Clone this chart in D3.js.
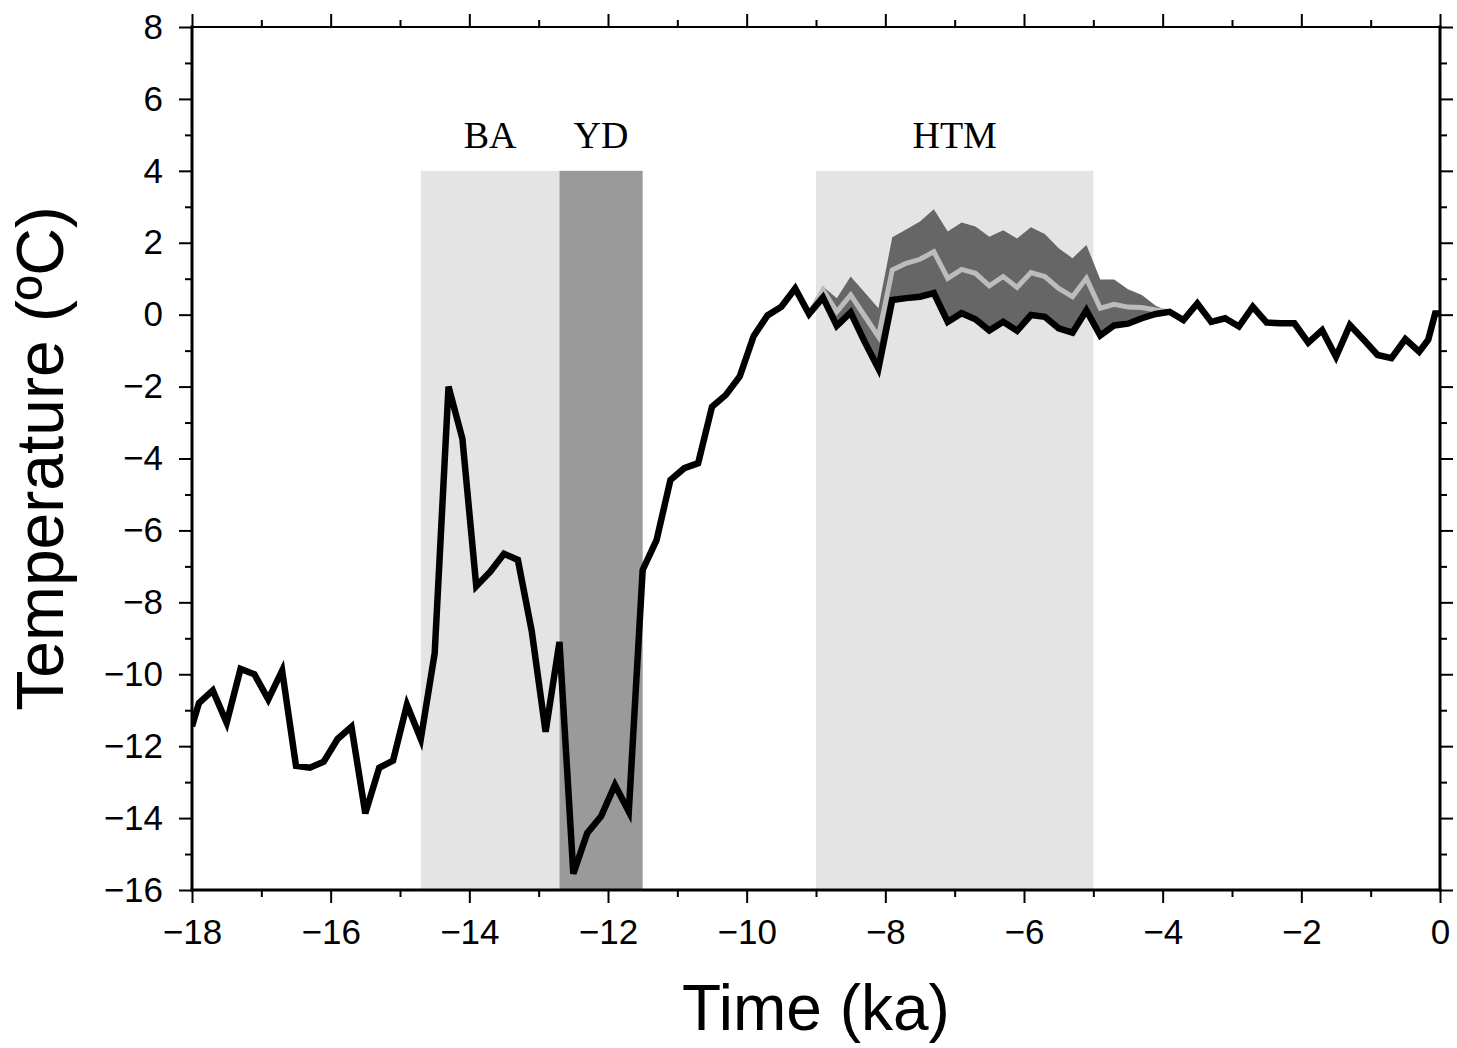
<!DOCTYPE html>
<html>
<head>
<meta charset="utf-8">
<script src="https://cdn.jsdelivr.net/npm/d3@7"></script>
<style>
  html, body { margin: 0; padding: 0; background: #fff; }
  svg { display: block; }
</style>
</head>
<body>
<svg id="chart" width="1457" height="1048"></svg>
<script>
// Time axis (ka) of the temperature record
const times = [
  -18.0, -17.9, -17.7, -17.5, -17.3, -17.1, -16.9, -16.7, -16.5, -16.3,
  -16.1, -15.9, -15.7, -15.5, -15.3, -15.1, -14.9, -14.7, -14.5, -14.3,
  -14.1, -13.9, -13.7, -13.5, -13.3, -13.1, -12.9, -12.7, -12.5, -12.3,
  -12.1, -11.9, -11.7, -11.5, -11.3, -11.1, -10.9, -10.7, -10.5, -10.3,
  -10.1, -9.9, -9.7, -9.5, -9.3, -9.1, -8.9, -8.7, -8.5, -8.3,
  -8.1, -7.9, -7.7, -7.5, -7.3, -7.1, -6.9, -6.7, -6.5, -6.3,
  -6.1, -5.9, -5.7, -5.5, -5.3, -5.1, -4.9, -4.7, -4.5, -4.3,
  -4.1, -3.9, -3.7, -3.5, -3.3, -3.1, -2.9, -2.7, -2.5, -2.3,
  -2.1, -1.9, -1.7, -1.5, -1.3, -1.1, -0.9, -0.7, -0.5, -0.3,
  -0.17, -0.07, 0.0
];

// Temperature anomaly (ºC)
const temperature = [
  -11.45, -10.8, -10.45, -11.35, -9.85, -10.0, -10.7, -9.9, -12.55, -12.6,
  -12.43, -11.8, -11.46, -13.87, -12.6, -12.4, -10.85, -11.8, -9.42, -2.0,
  -3.45, -7.55, -7.15, -6.65, -6.82, -8.8, -11.6, -9.1, -15.55, -14.42,
  -13.95, -13.08, -13.82, -7.1, -6.27, -4.6, -4.27, -4.13, -2.56, -2.23,
  -1.72, -0.6, -0.02, 0.22, 0.73, 0.02, 0.48, -0.31, 0.06, -0.75,
  -1.5, 0.41, 0.46, 0.5, 0.6, -0.2, 0.04, -0.13, -0.44, -0.2,
  -0.45, -0.01, -0.06, -0.38, -0.5, 0.12, -0.58, -0.3, -0.25, -0.1,
  0.02, 0.08, -0.15, 0.31, -0.2, -0.1, -0.33, 0.22, -0.22, -0.24,
  -0.24, -0.78, -0.43, -1.17, -0.29, -0.7, -1.12, -1.21, -0.68, -1.03,
  -0.7, 0.03, 0.03
];

// Holocene Thermal Maximum correction: times, upper bound and central estimate
const htmTimes = [
  -9.1, -8.9, -8.7, -8.5, -8.3, -8.1, -7.9, -7.7, -7.5, -7.3,
  -7.1, -6.9, -6.7, -6.5, -6.3, -6.1, -5.9, -5.7, -5.5, -5.3,
  -5.1, -4.9, -4.7, -4.5, -4.3, -4.1, -3.9
];
const htmUpper = [
  0.02, 0.78, 0.46, 1.06, 0.62, 0.18, 2.15, 2.37, 2.59, 2.93,
  2.31, 2.56, 2.45, 2.17, 2.35, 2.12, 2.43, 2.24, 1.85, 1.57,
  1.94, 0.98, 0.98, 0.71, 0.55, 0.25, 0.08
];
const htmMid = [
  0.02, 0.69, 0.08, 0.55, -0.03, -0.61, 1.24, 1.43, 1.54, 1.75,
  1.01, 1.26, 1.15, 0.80, 1.06, 0.76, 1.17, 1.06, 0.73, 0.50,
  1.01, 0.18, 0.29, 0.21, 0.20, 0.13, 0.08
];

// Climate intervals (ka)
const periodNames = ["BA", "YD", "HTM"];
const periodStart = [-14.7, -12.7, -9.0];
const periodEnd = [-12.7, -11.5, -5.0];
const periodFill = ["#e4e4e4", "#9a9a9a", "#e4e4e4"];
const periodTop = 4;

// Axis ticks
const xMajorTicks = [-18, -16, -14, -12, -10, -8, -6, -4, -2, 0];
const xMinorTicks = [-17, -15, -13, -11, -9, -7, -5, -3, -1];
const yMajorTicks = [-16, -14, -12, -10, -8, -6, -4, -2, 0, 2, 4, 6, 8];
const yMinorTicks = [-15, -13, -11, -9, -7, -5, -3, -1, 1, 3, 5, 7];

const plotLeft = 192, plotRight = 1440, plotTop = 27, plotBottom = 890;

const svg = d3.select("#chart");
const x = d3.scaleLinear().domain([-18, 0]).range([plotLeft, plotRight]);
const y = d3.scaleLinear().domain([-16, 8]).range([plotBottom, plotTop]);

svg.append("defs").append("clipPath").attr("id", "plot-clip")
  .append("rect").attr("x", plotLeft).attr("y", plotTop)
  .attr("width", plotRight - plotLeft).attr("height", plotBottom - plotTop);

const plot = svg.append("g").attr("clip-path", "url(#plot-clip)");

// Interval bands
plot.selectAll("rect.period")
  .data(periodNames.map((n, i) => ({ n, s: periodStart[i], e: periodEnd[i], f: periodFill[i] })))
  .join("rect")
  .attr("class", "period")
  .attr("x", d => x(d.s))
  .attr("width", d => x(d.e) - x(d.s))
  .attr("y", y(periodTop))
  .attr("height", plotBottom - y(periodTop))
  .attr("fill", d => d.f);

// Interval labels
svg.selectAll("text.period-label")
  .data(periodNames.map((n, i) => ({ n, c: (periodStart[i] + periodEnd[i]) / 2 })))
  .join("text")
  .attr("class", "period-label")
  .attr("x", d => x(d.c))
  .attr("y", 148)
  .attr("text-anchor", "middle")
  .attr("font-family", "'Liberation Serif', 'Times New Roman', serif")
  .attr("font-size", 38)
  .attr("fill", "#000")
  .text(d => d.n);

// Uncertainty envelope between the record and the upper bound
const tempAt = new Map(times.map((t, i) => [t, temperature[i]]));
const htmData = htmTimes.map((t, i) => ({ t, lo: tempAt.get(t), hi: htmUpper[i], mid: htmMid[i] }));

plot.append("path")
  .datum(htmData)
  .attr("fill", "#666666")
  .attr("d", d3.area().x(d => x(d.t)).y0(d => y(d.lo)).y1(d => y(d.hi)));

plot.append("path")
  .datum(htmData)
  .attr("fill", "none")
  .attr("stroke", "#bcbcbc")
  .attr("stroke-width", 5)
  .attr("stroke-linejoin", "miter")
  .attr("d", d3.line().x(d => x(d.t)).y(d => y(d.mid)));

// Temperature record
plot.append("path")
  .datum(times.map((t, i) => ({ t, v: temperature[i] })))
  .attr("fill", "none")
  .attr("stroke", "#000")
  .attr("stroke-width", 6.5)
  .attr("stroke-linejoin", "miter")
  .attr("stroke-miterlimit", 4)
  .attr("d", d3.line().x(d => x(d.t)).y(d => y(d.v)));

// Axes
const fmt = d3.format("d");
const axisFont = "'Liberation Sans', Arial, Helvetica, sans-serif";

function styleAxis(g) {
  g.select(".domain").remove();
  g.selectAll(".tick line").attr("stroke", "#000").attr("stroke-width", 2);
  g.selectAll(".tick text").attr("font-family", axisFont).attr("font-size", 35).attr("fill", "#000");
}

// bottom
svg.append("g").attr("transform", `translate(0,${plotBottom})`)
  .call(d3.axisBottom(x).tickValues(xMajorTicks).tickFormat(fmt).tickSize(13).tickPadding(16))
  .call(styleAxis);
svg.append("g").attr("transform", `translate(0,${plotBottom})`)
  .call(d3.axisBottom(x).tickValues(xMinorTicks).tickFormat("").tickSize(7))
  .call(styleAxis);
// top
svg.append("g").attr("transform", `translate(0,${plotTop})`)
  .call(d3.axisTop(x).tickValues(xMajorTicks).tickFormat("").tickSize(13))
  .call(styleAxis);
svg.append("g").attr("transform", `translate(0,${plotTop})`)
  .call(d3.axisTop(x).tickValues(xMinorTicks).tickFormat("").tickSize(7))
  .call(styleAxis);
// left
svg.append("g").attr("transform", `translate(${plotLeft},0)`)
  .call(d3.axisLeft(y).tickValues(yMajorTicks).tickFormat(fmt).tickSize(13).tickPadding(16))
  .call(styleAxis);
svg.append("g").attr("transform", `translate(${plotLeft},0)`)
  .call(d3.axisLeft(y).tickValues(yMinorTicks).tickFormat("").tickSize(7))
  .call(styleAxis);
// right
svg.append("g").attr("transform", `translate(${plotRight},0)`)
  .call(d3.axisRight(y).tickValues(yMajorTicks).tickFormat("").tickSize(13))
  .call(styleAxis);
svg.append("g").attr("transform", `translate(${plotRight},0)`)
  .call(d3.axisRight(y).tickValues(yMinorTicks).tickFormat("").tickSize(7))
  .call(styleAxis);

// Frame
const frame = svg.append("g").attr("stroke", "#000").attr("stroke-linecap", "square");
frame.append("line").attr("x1", plotLeft).attr("x2", plotRight).attr("y1", plotTop).attr("y2", plotTop).attr("stroke-width", 2);
frame.append("line").attr("x1", plotLeft).attr("x2", plotRight).attr("y1", plotBottom).attr("y2", plotBottom).attr("stroke-width", 3);
frame.append("line").attr("x1", plotLeft).attr("x2", plotLeft).attr("y1", plotTop).attr("y2", plotBottom).attr("stroke-width", 3);
frame.append("line").attr("x1", plotRight).attr("x2", plotRight).attr("y1", plotTop).attr("y2", plotBottom).attr("stroke-width", 3);

// Axis titles
svg.append("text")
  .attr("x", (plotLeft + plotRight) / 2)
  .attr("y", 1030)
  .attr("text-anchor", "middle")
  .attr("font-family", axisFont)
  .attr("font-size", 64)
  .attr("fill", "#000")
  .text("Time (ka)");

svg.append("text")
  .attr("transform", `translate(63,${(plotTop + plotBottom) / 2}) rotate(-90)`)
  .attr("text-anchor", "middle")
  .attr("font-family", axisFont)
  .attr("font-size", 66)
  .attr("fill", "#000")
  .text("Temperature (ºC)");
</script>
</body>
</html>
